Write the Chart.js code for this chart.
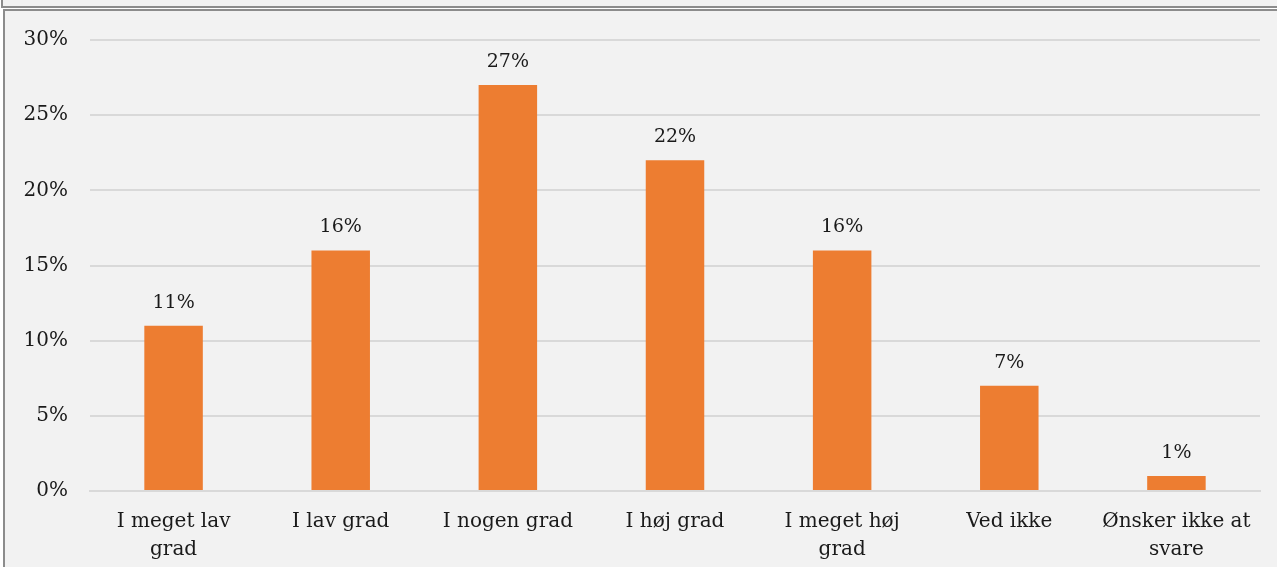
<!DOCTYPE html>
<html>
<head>
<meta charset="utf-8">
<script src="https://cdn.jsdelivr.net/npm/chart.js@4.4.0/dist/chart.umd.min.js"></script>
<style>
  html, body { margin: 0; padding: 0; background: #ffffff; width: 1277px; height: 567px; overflow: hidden; }
  #upper { position: absolute; left: 1px; top: -20px; width: 1400px; height: 24px; border: 2px solid #8c8c8c; background: #f2f2f2; }
  #box { position: absolute; left: 3px; top: 9px; width: 1400px; height: 700px; border: 2px solid #8c8c8c; background: #f2f2f2; }
  #wrap { position: absolute; left: 0; top: 0; width: 1277px; height: 567px; }
</style>
</head>
<body>
<div id="upper"></div>
<div id="box"></div>
<div id="wrap"><canvas id="c" width="1277" height="567"></canvas></div>
<script>
const categories = [["I meget lav", "grad"], "I lav grad", "I nogen grad", "I høj grad", ["I meget høj", "grad"], "Ved ikke", ["Ønsker ikke at", "svare"]];
const values = [11, 16, 27, 22, 16, 7, 1];
const yTicks = [0, 5, 10, 15, 20, 25, 30];

const FONT = "Georgia, 'DejaVu Serif', serif";

const labelPlugin = {
  id: 'barLabels',
  afterDatasetsDraw(chart) {
    const ctx = chart.ctx;
    const meta = chart.getDatasetMeta(0);
    ctx.save();
    ctx.font = "19px " + FONT;
    ctx.fillStyle = '#1a1a1a';
    ctx.textAlign = 'center';
    ctx.textBaseline = 'middle';
    meta.data.forEach((bar, i) => {
      ctx.fillText(values[i] + '%', bar.x, bar.y - 23);
    });
    ctx.restore();
  }
};

new Chart(document.getElementById('c'), {
  type: 'bar',
  data: {
    labels: categories,
    datasets: [{
      data: values,
      backgroundColor: '#ed7d31',
      borderWidth: 0,
      barPercentage: 0.35,
      categoryPercentage: 1.0
    }]
  },
  options: {
    responsive: false,
    animation: false,
    layout: { padding: { left: 0, right: 17, top: 40, bottom: 0 } },
    plugins: { legend: { display: false }, tooltip: { enabled: false } },
    scales: {
      x: {
        grid: { display: false, drawTicks: false },
        border: { display: true, color: '#d9d9d9', width: 2 },
        ticks: { color: '#1a1a1a', font: { family: FONT, size: 20, lineHeight: 1.4 }, padding: 17, maxRotation: 0, autoSkip: false },
        afterFit(s) { s.height = 76; }
      },
      y: {
        min: 0, max: 30,
        afterBuildTicks(s) { s.ticks = yTicks.map(v => ({ value: v })); },
        grid: { color: '#d9d9d9', lineWidth: 2, drawTicks: false },
        border: { display: false },
        ticks: { color: '#1a1a1a', font: { family: FONT, size: 20 }, padding: 22, callback: v => v + '%' },
        afterFit(s) { s.width = 90; }
      }
    }
  },
  plugins: [labelPlugin]
});
</script>
</body>
</html>
